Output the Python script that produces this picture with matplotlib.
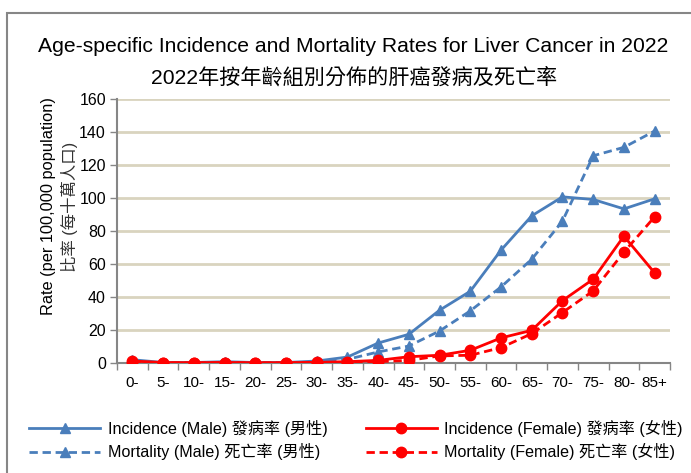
import matplotlib
matplotlib.use("Agg")
import matplotlib.pyplot as plt
from matplotlib.lines import Line2D
from matplotlib.patches import Rectangle

plt.rcParams['font.family'] = ['Liberation Sans', 'Noto Sans CJK TC', 'DejaVu Sans']

ages = ['0-', '5-', '10-', '15-', '20-', '25-', '30-', '35-', '40-', '45-',
        '50-', '55-', '60-', '65-', '70-', '75-', '80-', '85+']
inc_male = [2.0, 0.3, 0.3, 0.8, 0.3, 0.3, 1.2, 3.6, 12.1, 17.4, 32.0, 43.5,
            68.4, 89.2, 100.7, 99.1, 93.4, 99.5]
mort_male = [0.1, 0.1, 0.1, 0.1, 0.1, 0.2, 0.5, 2.2, 6.7, 10.3, 19.4, 31.6,
             46.1, 62.9, 86.0, 125.6, 130.7, 140.6]
inc_female = [1.2, 0.3, 0.2, 0.3, 0.2, 0.2, 0.4, 0.8, 1.6, 3.8, 4.7, 7.7,
              15.2, 19.8, 37.8, 50.8, 76.9, 54.6]
mort_female = [0.1, 0.0, 0.0, 0.1, 0.0, 0.0, 0.1, 0.3, 0.8, 1.6, 4.3, 4.7,
               9.3, 17.8, 30.6, 43.7, 67.2, 88.6]

labels = ['Incidence (Male) 發病率 (男性)', 'Mortality (Male) 死亡率 (男性)',
          'Incidence (Female) 發病率 (女性)', 'Mortality (Female) 死亡率 (女性)']
title1 = 'Age-specific Incidence and Mortality Rates for Liver Cancer in 2022'
title2 = '2022年按年齡組別分佈的肝癌發病及死亡率'
ylabel1 = 'Rate (per 100,000 population)'
ylabel2 = '比率 (每十萬人口)'

W, H = 691, 473
fig = plt.figure(figsize=(W / 100, H / 100), dpi=100)
ax = fig.add_axes([117 / W, 1 - 363 / H, (670 - 117) / W, (363 - 99) / H])

blue = '#4a7ebb'
red = '#ff0000'
dash = (0, (3, 1.7))
x = list(range(len(ages)))
ax.plot(x, inc_male, color=blue, lw=2, marker='^', ms=7.5, label=labels[0], zorder=3)
ax.plot(x, mort_male, color=blue, lw=2, ls=dash, marker='^', ms=7.5, label=labels[1], zorder=3)
ax.plot(x, inc_female, color=red, lw=2, marker='o', ms=7.5, label=labels[2], zorder=4)
ax.plot(x, mort_female, color=red, lw=2, ls=dash, marker='o', ms=7.5, label=labels[3], zorder=4)

ax.set_xlim(-0.5, len(ages) - 0.5)
ax.set_ylim(0, 160)
ax.set_yticks(range(0, 161, 20))
ax.set_xticks(x)
ax.set_xticklabels(ages, fontsize=11)
ax.tick_params(axis='x', length=0, pad=9)
ax.set_xticks([i - 0.5 for i in range(len(ages) + 1)], minor=True)
ax.tick_params(axis='x', which='minor', length=5, color='#868686', width=1)
ax.tick_params(axis='y', labelsize=11.5, length=5, color='#868686', width=1, pad=3)
ax.grid(axis='y', color='#d9d4bf', lw=2)
ax.set_axisbelow(True)
for s in ['top', 'right']:
    ax.spines[s].set_visible(False)
for s in ['left', 'bottom']:
    ax.spines[s].set_color('#868686')
    ax.spines[s].set_linewidth(1.5)

fig.text(48 / W, 1 - 206 / H, ylabel1, rotation=90, ha='center', va='center', fontsize=11.8)
fig.text(69 / W, 1 - 207 / H, ylabel2, rotation=90, ha='center', va='center', fontsize=11.8,
         color='#333333')

fig.text(353 / W, 1 - 47 / H, title1, ha='center', va='center', fontsize=15.2)
fig.text(354 / W, 1 - 77 / H, title2, ha='center', va='center', fontsize=15.2)

handles = [Line2D([], [], color=blue, lw=2, marker='^', ms=7.5),
           Line2D([], [], color=blue, lw=2, ls=dash, marker='^', ms=7.5),
           Line2D([], [], color=red, lw=2, marker='o', ms=7.5),
           Line2D([], [], color=red, lw=2, ls=dash, marker='o', ms=7.5)]
leg = fig.legend(handles, labels, loc='center', bbox_to_anchor=(356 / W, 1 - 440 / H),
                 ncol=2, frameon=False, fontsize=11.6, handlelength=4.4,
                 columnspacing=2.4, labelspacing=0.42, handletextpad=0.45)

fig.add_artist(Rectangle((7 / W, -0.1), 1.2, 1 - 13 / H + 0.1, transform=fig.transFigure,
                         fill=False, edgecolor='#868686', lw=1.5))

fig.savefig('out.png', dpi=100)
